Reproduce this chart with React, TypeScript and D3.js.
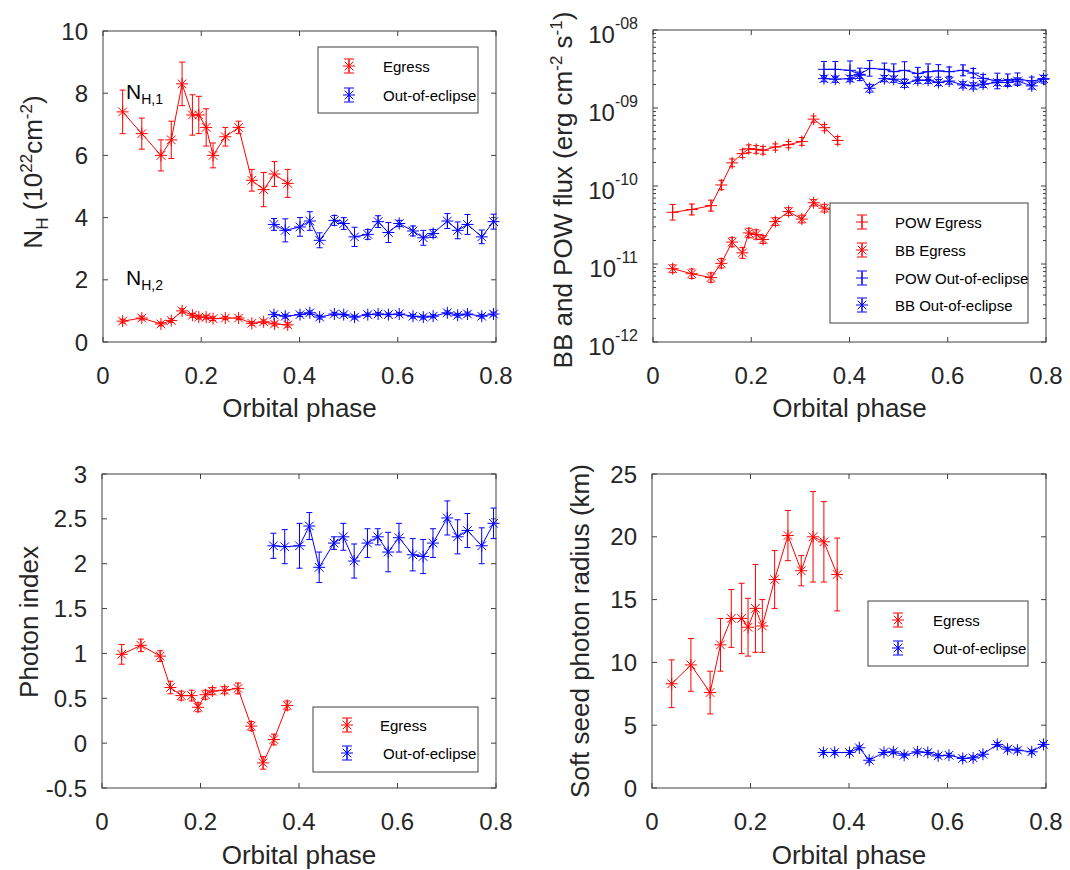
import React from 'react';
import * as d3 from 'd3';

// ---------------- DATA ----------------
const phaseEgress = [0.040, 0.079, 0.118, 0.139, 0.161, 0.182, 0.195, 0.210, 0.224, 0.249, 0.276, 0.303, 0.327, 0.349, 0.376];
const phaseOut = [0.348, 0.371, 0.401, 0.421, 0.441, 0.471, 0.490, 0.512, 0.539, 0.560, 0.581, 0.603, 0.631, 0.652, 0.672, 0.701, 0.722, 0.742, 0.771, 0.795];

const nh1Egress = [7.4, 6.7, 6.0, 6.5, 8.3, 7.3, 7.3, 6.9, 6.0, 6.6, 6.9, 5.2, 4.9, 5.4, 5.1];
const nh1EgressErr = [0.7, 0.5, 0.5, 0.6, 0.7, 0.65, 0.6, 0.6, 0.4, 0.3, 0.2, 0.35, 0.55, 0.4, 0.45];
const nh2Egress = [0.67, 0.77, 0.58, 0.69, 1.0, 0.86, 0.8, 0.8, 0.75, 0.77, 0.77, 0.6, 0.65, 0.58, 0.55];
const nh2EgressErr = [0.06, 0.06, 0.06, 0.06, 0.07, 0.06, 0.06, 0.06, 0.06, 0.05, 0.05, 0.06, 0.06, 0.06, 0.07];
const nh1Out = [3.78, 3.59, 3.70, 3.89, 3.27, 3.91, 3.81, 3.38, 3.46, 3.87, 3.52, 3.81, 3.57, 3.35, 3.49, 3.89, 3.59, 3.78, 3.38, 3.87];
const nh1OutErr = [0.19, 0.37, 0.3, 0.3, 0.24, 0.16, 0.19, 0.31, 0.16, 0.19, 0.32, 0.1, 0.16, 0.24, 0.13, 0.24, 0.27, 0.32, 0.22, 0.24];
const nh2Out = [0.88, 0.83, 0.88, 0.94, 0.80, 0.90, 0.88, 0.80, 0.88, 0.90, 0.88, 0.90, 0.83, 0.80, 0.83, 0.94, 0.86, 0.90, 0.83, 0.90];
const nh2OutErr = [0.06, 0.06, 0.06, 0.06, 0.06, 0.05, 0.05, 0.06, 0.05, 0.05, 0.05, 0.05, 0.06, 0.06, 0.05, 0.06, 0.06, 0.06, 0.06, 0.06];

const powEgress = [4.6e-11, 5.0e-11, 5.6e-11, 1.03e-10, 1.98e-10, 2.6e-10, 3.0e-10, 2.95e-10, 2.87e-10, 3.16e-10, 3.39e-10, 3.73e-10, 7.2e-10, 5.6e-10, 3.84e-10];
const powEgressErrDex = [0.1, 0.07, 0.07, 0.06, 0.05, 0.05, 0.05, 0.05, 0.05, 0.04, 0.04, 0.05, 0.04, 0.04, 0.05];
const bbEgress = [8.7e-12, 7.5e-12, 6.7e-12, 1.02e-11, 1.91e-11, 1.39e-11, 2.5e-11, 2.39e-11, 2.06e-11, 3.5e-11, 4.7e-11, 3.77e-11, 6.1e-11, 5.2e-11, 4.6e-11];
const bbEgressErrDex = [0.05, 0.06, 0.06, 0.06, 0.06, 0.07, 0.06, 0.06, 0.05, 0.05, 0.05, 0.05, 0.04, 0.05, 0.05];
const powOut = [3.13e-9, 3.13e-9, 3.04e-9, 2.7e-9, 3.22e-9, 3.13e-9, 2.92e-9, 3.04e-9, 2.76e-9, 2.92e-9, 2.99e-9, 2.92e-9, 3.04e-9, 2.8e-9, 2.4e-9, 2.22e-9, 2.27e-9, 2.34e-9, 2.22e-9, 2.34e-9];
const powOutErrDex = [0.1, 0.1, 0.12, 0.08, 0.1, 0.08, 0.1, 0.11, 0.08, 0.1, 0.08, 0.06, 0.07, 0.06, 0.05, 0.1, 0.08, 0.08, 0.05, 0.05];
const bbOut = [2.38e-9, 2.34e-9, 2.38e-9, 2.63e-9, 1.79e-9, 2.38e-9, 2.34e-9, 2.06e-9, 2.27e-9, 2.27e-9, 2.12e-9, 2.22e-9, 1.98e-9, 1.92e-9, 2.02e-9, 2.12e-9, 2.12e-9, 2.22e-9, 1.92e-9, 2.38e-9];
const bbOutErrDex = [0.04, 0.04, 0.04, 0.04, 0.05, 0.04, 0.04, 0.05, 0.04, 0.04, 0.04, 0.04, 0.04, 0.04, 0.04, 0.04, 0.04, 0.04, 0.04, 0.04];

const gammaEgress = [0.99, 1.09, 0.97, 0.62, 0.53, 0.53, 0.40, 0.54, 0.58, 0.59, 0.61, 0.19, -0.22, 0.04, 0.42];
const gammaEgressErr = [0.11, 0.07, 0.06, 0.07, 0.05, 0.06, 0.05, 0.05, 0.04, 0.04, 0.06, 0.05, 0.07, 0.06, 0.05];
const gammaOut = [2.20, 2.19, 2.20, 2.42, 1.96, 2.23, 2.30, 2.03, 2.23, 2.30, 2.13, 2.29, 2.10, 2.08, 2.23, 2.51, 2.30, 2.37, 2.20, 2.45];
const gammaOutErr = [0.14, 0.19, 0.25, 0.15, 0.17, 0.07, 0.15, 0.19, 0.16, 0.09, 0.22, 0.16, 0.18, 0.19, 0.16, 0.19, 0.19, 0.19, 0.2, 0.17];

const radiusEgress = [8.3, 9.8, 7.6, 11.4, 13.5, 13.5, 12.8, 14.3, 12.9, 16.6, 20.1, 17.3, 20.0, 19.6, 17.0];
const radiusEgressErr = [1.9, 2.1, 1.7, 2.1, 2.3, 2.8, 2.3, 3.5, 2.1, 2.3, 2.0, 1.2, 3.6, 3.2, 2.9];
const radiusOut = [2.83, 2.83, 2.83, 3.2, 2.21, 2.83, 2.88, 2.61, 2.88, 2.83, 2.56, 2.61, 2.35, 2.4, 2.69, 3.47, 3.09, 3.01, 2.88, 3.47];
const radiusOutErr = [0.15, 0.15, 0.15, 0.15, 0.15, 0.15, 0.15, 0.15, 0.15, 0.15, 0.15, 0.15, 0.15, 0.15, 0.15, 0.15, 0.15, 0.15, 0.15, 0.15];

const xTicks = [0, 0.2, 0.4, 0.6, 0.8];
const nhTicks = [0, 2, 4, 6, 8, 10];
const fluxTicks = [1e-12, 1e-11, 1e-10, 1e-9, 1e-8];
const gammaTicks = [-0.5, 0, 0.5, 1, 1.5, 2, 2.5, 3];
const radiusTicks = [0, 5, 10, 15, 20, 25];

// ---------------- STYLE ----------------
const FONT = "'Liberation Sans', Arial, Helvetica, sans-serif";
const RED = '#ff0000';
const BLUE = '#0000ff';
const AX = '#404040';
const TICK_FS = 24;
const LABEL_FS = 26;
const LEG_FS = 15;

type Marker = 'star' | 'plus';
interface Series { x: number[]; y: number[]; lo: number[]; hi: number[]; color: string; marker: Marker; }

function linSeries(x: number[], y: number[], e: number[], color: string, marker: Marker): Series {
  return { x, y, lo: y.map((v, i) => v - e[i]), hi: y.map((v, i) => v + e[i]), color, marker };
}
function logSeries(x: number[], y: number[], eDex: number[], color: string, marker: Marker): Series {
  return { x, y, lo: y.map((v, i) => v / Math.pow(10, eDex[i])), hi: y.map((v, i) => v * Math.pow(10, eDex[i])), color, marker };
}

function MarkerGlyph({ cx, cy, r, color, marker }: { cx: number; cy: number; r: number; color: string; marker: Marker }) {
  const d = r * 0.72;
  return (
    <g stroke={color} strokeWidth={1} fill="none">
      <line x1={cx - r} y1={cy} x2={cx + r} y2={cy} />
      <line x1={cx} y1={cy - r} x2={cx} y2={cy + r} />
      {marker === 'star' && (
        <>
          <line x1={cx - d} y1={cy - d} x2={cx + d} y2={cy + d} />
          <line x1={cx - d} y1={cy + d} x2={cx + d} y2={cy - d} />
        </>
      )}
    </g>
  );
}

interface LegendEntry { label: string; color: string; marker: Marker; }
interface LegendCfg { x0: number; y0: number; x1: number; y1: number; rows: number[]; markerX: number; textX: number[]; entries: LegendEntry[]; }

interface PanelCfg {
  box: { x0: number; y0: number; x1: number; y1: number };
  log: boolean;
  yDomain: [number, number];
  yTicks: number[];
  yTickLabel: (v: number, x: number, y: number) => React.ReactNode;
  series: Series[];
  legend: LegendCfg;
  ylabel: React.ReactNode;
  ylabelX: number;
  ylabelY: number;
  xlabelY: number;
  extra?: React.ReactNode;
}

function Panel({ cfg }: { cfg: PanelCfg }) {
  const { box } = cfg;
  const xs = d3.scaleLinear().domain([0, 0.8]).range([box.x0, box.x1]);
  const ys: any = cfg.log
    ? d3.scaleLog().domain(cfg.yDomain).range([box.y1, box.y0])
    : d3.scaleLinear().domain(cfg.yDomain).range([box.y1, box.y0]);
  const line = d3.line<[number, number]>().x((d) => xs(d[0])).y((d) => ys(d[1]));
  const TL = 5;
  const minor: number[] = [];
  if (cfg.log) {
    for (let e = -12; e < -8; e++) for (let m = 2; m <= 9; m++) minor.push(m * Math.pow(10, e));
  }
  const cap = 3;
  const L = cfg.legend;
  return (
    <g>
      <g stroke={AX} strokeWidth={1}>
        {xTicks.map((t) => (
          <g key={'x' + t}>
            <line x1={xs(t)} x2={xs(t)} y1={box.y1} y2={box.y1 - TL} />
            <line x1={xs(t)} x2={xs(t)} y1={box.y0} y2={box.y0 + TL} />
          </g>
        ))}
        {cfg.yTicks.map((t) => (
          <g key={'y' + t}>
            <line x1={box.x0} x2={box.x0 + TL} y1={ys(t)} y2={ys(t)} />
            <line x1={box.x1} x2={box.x1 - TL} y1={ys(t)} y2={ys(t)} />
          </g>
        ))}
        {minor.map((t) => (
          <g key={'m' + t}>
            <line x1={box.x0} x2={box.x0 + 3} y1={ys(t)} y2={ys(t)} />
            <line x1={box.x1} x2={box.x1 - 3} y1={ys(t)} y2={ys(t)} />
          </g>
        ))}
      </g>
      <rect x={box.x0} y={box.y0} width={box.x1 - box.x0} height={box.y1 - box.y0} fill="none" stroke={AX} strokeWidth={1} />
      <g fontFamily={FONT} fontSize={TICK_FS} fill="#262626">
        {xTicks.map((t) => (
          <text key={'xl' + t} x={xs(t)} y={box.y1 + 33} textAnchor="middle" dominantBaseline="central">
            {t === 0 ? '0' : String(t)}
          </text>
        ))}
        {cfg.yTicks.map((t) => <g key={'yl' + t}>{cfg.yTickLabel(t, box.x0 - 15, ys(t))}</g>)}
      </g>
      {cfg.series.map((s, si) => (
        <g key={'s' + si}>
          <path d={line(s.x.map((x, i) => [x, s.y[i]] as [number, number])) || ''} fill="none" stroke={s.color} strokeWidth={1} />
          <g stroke={s.color} strokeWidth={1}>
            {s.x.map((x, i) => (
              <g key={i}>
                <line x1={xs(x)} x2={xs(x)} y1={ys(s.lo[i])} y2={ys(s.hi[i])} />
                <line x1={xs(x) - cap} x2={xs(x) + cap} y1={ys(s.lo[i])} y2={ys(s.lo[i])} />
                <line x1={xs(x) - cap} x2={xs(x) + cap} y1={ys(s.hi[i])} y2={ys(s.hi[i])} />
              </g>
            ))}
          </g>
          {s.x.map((x, i) => (
            <MarkerGlyph key={'m' + i} cx={xs(x)} cy={ys(s.y[i])} r={6} color={s.color} marker={s.marker} />
          ))}
        </g>
      ))}
      {cfg.extra}
      <rect x={L.x0} y={L.y0} width={L.x1 - L.x0} height={L.y1 - L.y0} fill="#ffffff" stroke={AX} strokeWidth={1} />
      {L.entries.map((e, i) => (
        <g key={'le' + i}>
          <g stroke={e.color} strokeWidth={1}>
            <line x1={L.markerX} x2={L.markerX} y1={L.rows[i] - 7} y2={L.rows[i] + 7} />
            <line x1={L.markerX - 5} x2={L.markerX + 5} y1={L.rows[i] - 7} y2={L.rows[i] - 7} />
            <line x1={L.markerX - 5} x2={L.markerX + 5} y1={L.rows[i] + 7} y2={L.rows[i] + 7} />
          </g>
          <MarkerGlyph cx={L.markerX} cy={L.rows[i]} r={6} color={e.color} marker={e.marker} />
          <text x={L.textX[i]} y={L.rows[i]} dominantBaseline="central" fontFamily={FONT} fontSize={LEG_FS} fill="#000">
            {e.label}
          </text>
        </g>
      ))}
      <text x={(box.x0 + box.x1) / 2} y={cfg.xlabelY} textAnchor="middle" dominantBaseline="central" fontFamily={FONT} fontSize={LABEL_FS} fill="#262626">
        Orbital phase
      </text>
      <text transform={`translate(${cfg.ylabelX},${cfg.ylabelY}) rotate(-90)`} textAnchor="middle" fontFamily={FONT} fontSize={LABEL_FS} fill="#262626">
        {cfg.ylabel}
      </text>
    </g>
  );
}

const linLabel = (v: number, x: number, y: number) => (
  <text x={x} y={y} textAnchor="end" dominantBaseline="central">{String(v)}</text>
);
const logLabel = (v: number, x: number, y: number) => {
  const e = Math.round(Math.log10(v));
  const s = '-' + String(Math.abs(e)).padStart(2, '0');
  return (
    <text x={x} y={y + 4} textAnchor="end" dominantBaseline="central">
      10<tspan fontSize={16} dy={-11}>{s}</tspan>
    </text>
  );
};

export default function App() {
  const p1: PanelCfg = {
    box: { x0: 103, y0: 31, x1: 496, y1: 342 },
    log: false,
    yDomain: [0, 10],
    yTicks: nhTicks,
    yTickLabel: linLabel,
    series: [
      linSeries(phaseEgress, nh1Egress, nh1EgressErr, RED, 'star'),
      linSeries(phaseEgress, nh2Egress, nh2EgressErr, RED, 'star'),
      linSeries(phaseOut, nh1Out, nh1OutErr, BLUE, 'star'),
      linSeries(phaseOut, nh2Out, nh2OutErr, BLUE, 'star'),
    ],
    legend: {
      x0: 318, y0: 47, x1: 478, y1: 113, rows: [66, 95], markerX: 349, textX: [383, 383],
      entries: [
        { label: 'Egress', color: RED, marker: 'star' },
        { label: 'Out-of-eclipse', color: BLUE, marker: 'star' },
      ],
    },
    ylabel: (
      <>
        N<tspan fontSize={17} dy={6}>H</tspan>
        <tspan dy={-6}> (10</tspan>
        <tspan fontSize={17} dy={-10}>22</tspan>
        <tspan dy={10}>cm</tspan>
        <tspan fontSize={17} dy={-10}>-2</tspan>
        <tspan dy={10}>)</tspan>
      </>
    ),
    ylabelX: 42,
    ylabelY: 172,
    xlabelY: 408,
    extra: (
      <g fontFamily={FONT} fill="#000">
        <text x={126} y={99} fontSize={21}>N<tspan fontSize={14} dy={5}>H,1</tspan></text>
        <text x={126} y={285} fontSize={21}>N<tspan fontSize={14} dy={5}>H,2</tspan></text>
      </g>
    ),
  };
  const p2: PanelCfg = {
    box: { x0: 653, y0: 30, x1: 1046, y1: 342 },
    log: true,
    yDomain: [1e-12, 1e-8],
    yTicks: fluxTicks,
    yTickLabel: logLabel,
    series: [
      logSeries(phaseEgress, powEgress, powEgressErrDex, RED, 'plus'),
      logSeries(phaseEgress, bbEgress, bbEgressErrDex, RED, 'star'),
      logSeries(phaseOut, powOut, powOutErrDex, BLUE, 'plus'),
      logSeries(phaseOut, bbOut, bbOutErrDex, BLUE, 'star'),
    ],
    legend: {
      x0: 830, y0: 203, x1: 1028, y1: 323, rows: [222, 250, 278, 305], markerX: 862, textX: [895, 895, 895, 895],
      entries: [
        { label: 'POW Egress', color: RED, marker: 'plus' },
        { label: 'BB Egress', color: RED, marker: 'star' },
        { label: 'POW Out-of-eclipse', color: BLUE, marker: 'plus' },
        { label: 'BB Out-of-eclipse', color: BLUE, marker: 'star' },
      ],
    },
    ylabel: (
      <>
        BB and POW flux (erg cm<tspan fontSize={17} dy={-10}>-2</tspan>
        <tspan dy={10}> s</tspan>
        <tspan fontSize={17} dy={-10}>-1</tspan>
        <tspan dy={10}>)</tspan>
      </>
    ),
    ylabelX: 572,
    ylabelY: 190,
    xlabelY: 408,
  };
  const p3: PanelCfg = {
    box: { x0: 102, y0: 474, x1: 496, y1: 788 },
    log: false,
    yDomain: [-0.5, 3],
    yTicks: gammaTicks,
    yTickLabel: linLabel,
    series: [
      linSeries(phaseEgress, gammaEgress, gammaEgressErr, RED, 'star'),
      linSeries(phaseOut, gammaOut, gammaOutErr, BLUE, 'star'),
    ],
    legend: {
      x0: 313, y0: 707, x1: 478, y1: 772, rows: [725, 753], markerX: 347, textX: [380, 383],
      entries: [
        { label: 'Egress', color: RED, marker: 'star' },
        { label: 'Out-of-eclipse', color: BLUE, marker: 'star' },
      ],
    },
    ylabel: <>Photon index</>,
    ylabelX: 38,
    ylabelY: 622,
    xlabelY: 855,
  };
  const p4: PanelCfg = {
    box: { x0: 652, y0: 474, x1: 1046, y1: 788 },
    log: false,
    yDomain: [0, 25],
    yTicks: radiusTicks,
    yTickLabel: linLabel,
    series: [
      linSeries(phaseEgress, radiusEgress, radiusEgressErr, RED, 'star'),
      linSeries(phaseOut, radiusOut, radiusOutErr, BLUE, 'star'),
    ],
    legend: {
      x0: 868, y0: 601, x1: 1028, y1: 666, rows: [620, 648], markerX: 898, textX: [933, 933],
      entries: [
        { label: 'Egress', color: RED, marker: 'star' },
        { label: 'Out-of-eclipse', color: BLUE, marker: 'star' },
      ],
    },
    ylabel: <>Soft seed photon radius (km)</>,
    ylabelX: 589,
    ylabelY: 631,
    xlabelY: 855,
  };
  return (
    <svg width={1070} height={870} style={{ position: 'absolute', left: 0, top: 0, background: '#fff' }}>
      <rect x={0} y={0} width={1070} height={870} fill="#fff" />
      <Panel cfg={p1} />
      <Panel cfg={p2} />
      <Panel cfg={p3} />
      <Panel cfg={p4} />
    </svg>
  );
}
